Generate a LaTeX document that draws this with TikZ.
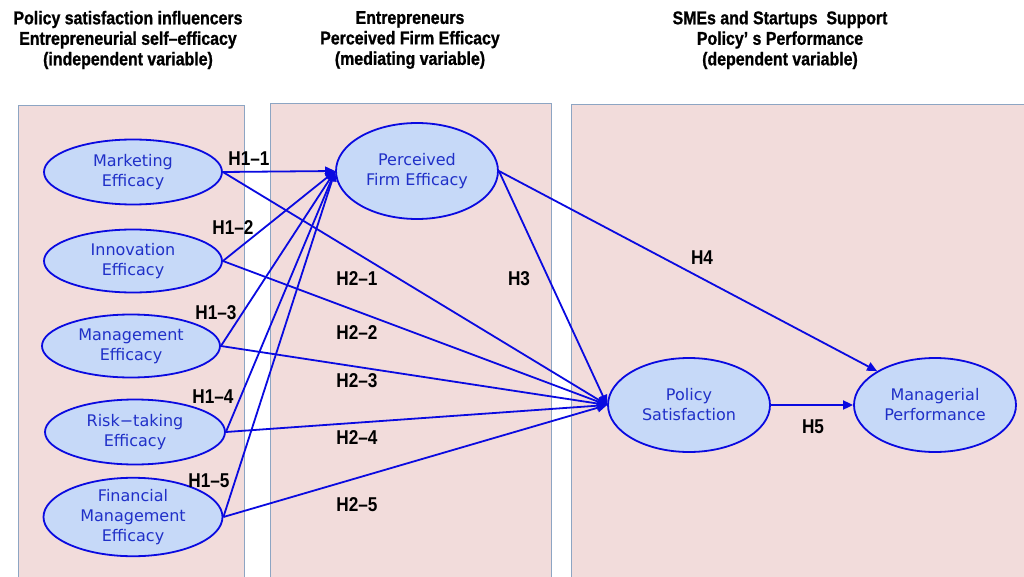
\documentclass[tikz,border=0pt]{standalone}
\usepackage{fontspec}
\setmainfont{DejaVu Sans}
\newfontfamily\headfont[FakeStretch=0.86,FakeBold=1]{Liberation Sans Bold}
\newfontfamily\hypfont[FakeStretch=0.86]{Liberation Sans Bold}
\usetikzlibrary{shapes.geometric,arrows.meta}
\definecolor{panelfill}{HTML}{F2DCDB}
\definecolor{panelline}{HTML}{8DA5C3}
\definecolor{ovalfill}{HTML}{C6D9F8}
\definecolor{ovalline}{HTML}{0A0AE0}
\definecolor{ovaltext}{HTML}{2030C8}
\tikzset{
  panel/.style={fill=panelfill,draw=panelline,line width=1pt},
  construct/.style={ellipse,draw=ovalline,fill=ovalfill,line width=1.8pt,inner sep=0pt,
    text=ovaltext,align=center,font=\fontsize{16}{20}\selectfont},
  heading/.style={align=center,font=\headfont\fontsize{18.5}{20.5}\selectfont},
  hyp/.style={font=\hypfont\fontsize{20}{22}\selectfont,inner sep=0pt},
  path/.style={draw=ovalline,line width=1.8pt,-{Triangle[length=10pt,width=9pt]}},
}
\begin{document}
\begin{tikzpicture}[x=1pt,y=-1pt]
\useasboundingbox (0,0) rectangle (1024,577);
\clip (0,0) rectangle (1024,577);
\fill[white] (0,0) rectangle (1024,577);

% column panels
\draw[panel] (18,106) rectangle (244,600);
\draw[panel] (270,104) rectangle (551,600);
\draw[panel] (571,105) rectangle (1040,600);

% column headings
\node[heading] (h1) at (128,40) {Policy satisfaction influencers\\Entrepreneurial self–efficacy\\(independent variable)};
\node[heading] (h2) at (410,40) {Entrepreneurs\\Perceived Firm Efficacy\\(mediating variable)};
\node[heading] (h3) at (780,40) {SMEs and Startups\ \ Support\\Policy’\ s Performance\\(dependent variable)};

% constructs
\node[construct,minimum width=178pt,minimum height=65pt] (mkt) at (133,172) {Marketing\\Efficacy};
\node[construct,minimum width=178pt,minimum height=63pt] (inn) at (133,261) {Innovation\\Efficacy};
\node[construct,minimum width=178pt,minimum height=63pt] (mgt) at (131,346) {Management\\Efficacy};
\node[construct,minimum width=180pt,minimum height=65pt] (rsk) at (135,432) {Risk−taking\\Efficacy};
\node[construct,minimum width=179pt,minimum height=66pt] (fin) at (133,517) {Financial\\Management\\Efficacy};
\node[construct,minimum width=162pt,minimum height=96pt] (pfe) at (417,171) {Perceived\\Firm Efficacy};
\node[construct,minimum width=162pt,minimum height=94pt] (ps) at (689,405) {Policy\\Satisfaction};
\node[construct,minimum width=162pt,minimum height=94pt] (mp) at (935,405) {Managerial\\Performance};

% H1: self-efficacy -> perceived firm efficacy
\draw[path] (mkt.east) -- (pfe.west);
\draw[path] (inn.east) -- (pfe.west);
\draw[path] (mgt.east) -- (pfe.west);
\draw[path] (rsk.east) -- (pfe.west);
\draw[path] (fin.east) -- (pfe.west);
% H2: self-efficacy -> policy satisfaction
\draw[path] (mkt.east) -- (ps.west);
\draw[path] (inn.east) -- (ps.west);
\draw[path] (mgt.east) -- (ps.west);
\draw[path] (rsk.east) -- (ps.west);
\draw[path] (fin.east) -- (ps.west);
% H3, H4, H5
\draw[path] (pfe.east) -- (ps.west);
\draw[path] (pfe.east) -- (mp.north west);
\draw[path] (ps.east) -- (mp.west);

% hypothesis labels
\node[hyp] (l11) at (249,159) {H1–1};
\node[hyp] (l12) at (233,228) {H1–2};
\node[hyp] (l13) at (216,313) {H1–3};
\node[hyp] (l14) at (213,397) {H1–4};
\node[hyp] (l15) at (209,481) {H1–5};
\node[hyp] (l21) at (357,279) {H2–1};
\node[hyp] (l22) at (357,333) {H2–2};
\node[hyp] (l23) at (357,381) {H2–3};
\node[hyp] (l24) at (357,438) {H2–4};
\node[hyp] (l25) at (357,505) {H2–5};
\node[hyp] (l3) at (519,279) {H3};
\node[hyp] (l4) at (702,258) {H4};
\node[hyp] (l5) at (813,427) {H5};
\end{tikzpicture}
\end{document}
